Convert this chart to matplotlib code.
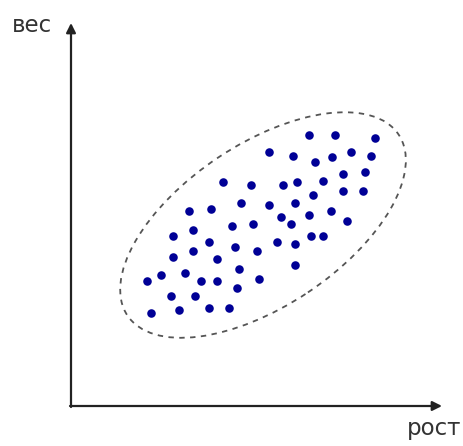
import numpy as np
import matplotlib
matplotlib.use("Agg")
import matplotlib.pyplot as plt
from matplotlib.patches import Ellipse

# height (рост) and weight (вес) of the points, arbitrary units
rost = [23.8, 26.4, 30.4, 19.8, 22.2, 24.4, 26.1, 28.0, 30.0, 27.2,
        29.4, 15.2, 18.0, 21.2, 22.6, 25.2, 24.2, 27.2, 29.2, 11.8,
        14.0, 17.0, 19.8, 22.4, 21.0, 22.0, 23.8, 26.0, 27.6, 16.1,
        18.2, 10.2, 12.2, 13.8, 16.4, 18.6, 20.6, 22.4, 24.0, 25.2,
        10.2, 12.2, 14.6, 16.8, 18.8, 16.6, 22.4, 9.0, 11.4, 7.6,
        13.0, 14.6, 10.0, 12.4, 8.0, 10.8, 13.8, 15.8]
ves = [27.1, 27.1, 26.8, 25.4, 25.0, 24.4, 24.9, 25.4, 25.0, 23.2,
       23.4, 22.4, 22.1, 22.1, 22.4, 22.5, 21.1, 21.5, 21.5, 19.5,
       19.7, 20.3, 20.1, 20.3, 18.9, 18.2, 19.1, 19.5, 18.5, 18.0,
       18.2, 17.0, 17.6, 16.4, 15.9, 15.5, 16.4, 16.2, 17.0, 17.0,
       14.9, 15.5, 14.7, 13.7, 12.7, 11.8, 14.1, 13.1, 13.3, 12.5,
       12.5, 12.5, 11.0, 11.0, 9.3, 9.6, 9.8, 9.8]

x_label = "рост"
y_label = "вес"

fig = plt.figure(figsize=(4.64, 4.46), dpi=100)
ax = fig.add_axes([0, 0, 1, 1])
ax.set_xlim(-7.1, 39.3)
ax.set_ylim(-4.0, 40.6)
ax.axis("off")

# axes with arrows
arrow = dict(arrowstyle="-|>", lw=1.6, color="#222222", mutation_scale=14, shrinkA=0, shrinkB=0)
ax.annotate("", xy=(37.1, 0), xytext=(-0.1, 0), arrowprops=arrow)
ax.annotate("", xy=(0, 38.3), xytext=(0, -0.1), arrowprops=arrow)

ax.text(33.6, -2.9, x_label, fontsize=16.5, color="#333333", ha="left", va="baseline")
ax.text(-3.9, 37.4, y_label, fontsize=16.5, color="#333333", ha="center", va="baseline")

# dashed ellipse around the cloud
ell = Ellipse((19.2, 18.1), 32.6, 16.2, angle=33.7, fill=False,
              edgecolor="#555555", lw=1.3, linestyle=(0, (3, 3)))
ax.add_patch(ell)

ax.scatter(rost, ves, s=38, color="#000096", linewidths=0, zorder=3)

fig.savefig("out.png", dpi=100)
